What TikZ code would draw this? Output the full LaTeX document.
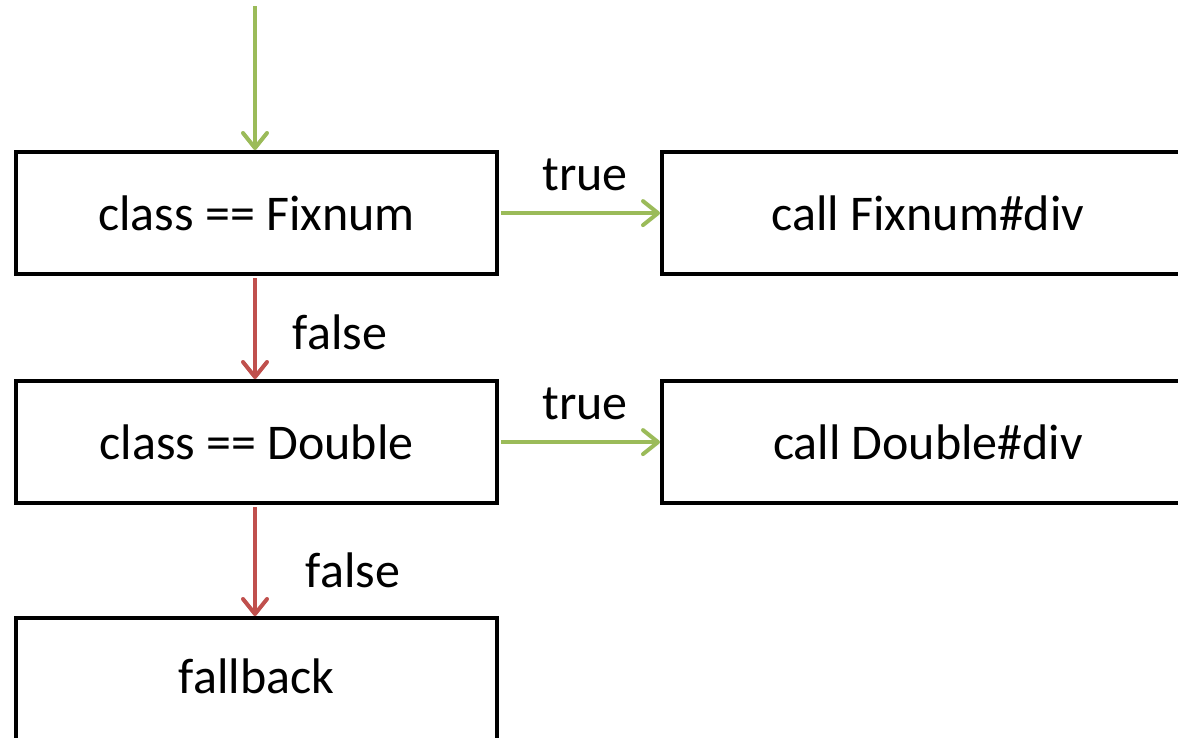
\documentclass[tikz,border=0pt]{standalone}
\usepackage{fontspec}
\setmainfont{Carlito}
\usetikzlibrary{arrows.meta}
\definecolor{okgreen}{HTML}{9BBB59}
\definecolor{failred}{HTML}{C0504D}
\begin{document}
\begin{tikzpicture}[x=1pt,y=-1pt,
  stepbox/.style={draw=black,line width=4.2pt,fill=white,minimum width=481pt,minimum height=122pt,inner sep=0pt,anchor=north west,font=\fontsize{50}{60}\selectfont},
  widebox/.style={stepbox,minimum width=560pt},
  flow/.style={line width=4pt,-{Straight Barb[length=15pt,width=24pt,line width=4pt,round]}},
  yes/.style={flow,draw=okgreen},
  no/.style={flow,draw=failred},
  lbl/.style={font=\fontsize{50}{60}\selectfont,inner sep=0pt}]
\useasboundingbox (0,0) rectangle (1178,737);
\clip (0,0) rectangle (1178,737);
% decision and action boxes
\node[stepbox] (fix) at (14,150) {class == Fixnum};
\node[stepbox] (dbl) at (14,379) {class == Double};
\node[stepbox] (fb) at (14,616) {\raisebox{5pt}{fallback}};
\node[widebox] (callfix) at (660,150) {\hspace*{-28pt}call Fixnum\#div};
\node[widebox] (calldbl) at (660,379) {\hspace*{-28pt}call Double\#div};
% entry point
\coordinate (entry) at (255,6);
% connectors
\draw[yes] (entry) -- (fix.north -| entry);
\draw[yes] (fix.east) ++(2,0) coordinate (fe) -- (fe -| callfix.west);
\draw[yes] (dbl.east) ++(2,0) coordinate (de) -- (de -| calldbl.west);
\draw[no] (fix.south -| entry) ++(0,2) coordinate (fs) -- (fs |- dbl.north);
\draw[no] (dbl.south -| entry) ++(0,2) coordinate (ds) -- (ds |- fb.north);
% branch labels
\node[lbl] (t1) at (585,175) {true};
\node[lbl] (t2) at (585,404) {true};
\node[lbl] (f1) at (340,332) {false};
\node[lbl] (f2) at (353,570) {false};
\end{tikzpicture}
\end{document}
